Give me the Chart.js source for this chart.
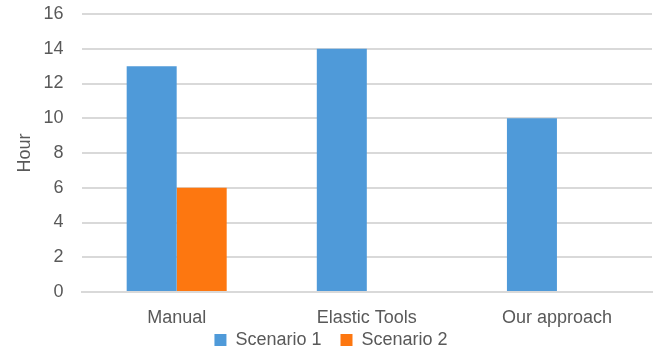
<!DOCTYPE html>
<html>
<head>
<meta charset="utf-8">
<script src="https://cdn.jsdelivr.net/npm/chart.js@4"></script>
<style>
  html, body { margin: 0; padding: 0; background: #ffffff; }
  #wrap { width: 656px; height: 352px; }
</style>
</head>
<body>
<div id="wrap"><canvas id="c" width="656" height="352"></canvas></div>
<script>
const categories = ["Manual", "Elastic Tools", "Our approach"];
const scenario1 = [13, 14, 10];
const scenario2 = [6, 0, 0];
const yTicks = [0, 2, 4, 6, 8, 10, 12, 14, 16];

const textColor = "#595959";
const gridColor = "#d9d9d9";
const fontFamily = "'Liberation Sans', 'DejaVu Sans', sans-serif";

// Pulls the legend box up so its row sits right under the category labels,
// while keeping wide horizontal spacing between the legend items.
const legendLift = {
  id: "legendLift",
  afterLayout(chart) {
    const lg = chart.legend;
    if (lg) { lg.top -= 15; lg.bottom -= 15; }
  }
};

new Chart(document.getElementById("c"), {
  type: "bar",
  data: {
    labels: categories,
    datasets: [
      { label: "Scenario 1", data: scenario1, backgroundColor: "#4f9ad9", borderWidth: 0 },
      { label: "Scenario 2", data: scenario2, backgroundColor: "#fd7710", borderWidth: 0 }
    ]
  },
  plugins: [legendLift],
  options: {
    responsive: false,
    animation: false,
    layout: { padding: { left: 10, right: 4, top: 14, bottom: -22 } },
    datasets: { bar: { categoryPercentage: 0.526, barPercentage: 1.0 } },
    plugins: {
      legend: {
        position: "bottom",
        labels: {
          color: textColor,
          font: { family: fontFamily, size: 18, lineHeight: 1 },
          boxWidth: 12,
          boxHeight: 12,
          padding: 19
        }
      },
      tooltip: { enabled: false }
    },
    scales: {
      x: {
        // invisible tick marks give the gap between the axis line and the labels
        grid: { display: true, drawOnChartArea: false, drawTicks: true, tickLength: 17, tickColor: "rgba(0,0,0,0)" },
        border: { display: true, color: gridColor, width: 2 },
        ticks: { color: textColor, font: { family: fontFamily, size: 18, lineHeight: 1 }, padding: 0 }
      },
      y: {
        min: 0,
        max: 16,
        afterBuildTicks: (axis) => { axis.ticks = yTicks.map(v => ({ value: v })); },
        grid: { color: gridColor, lineWidth: 2, drawTicks: true, tickLength: 18, tickColor: "rgba(0,0,0,0)" },
        border: { display: false },
        ticks: { color: textColor, font: { family: fontFamily, size: 18 }, padding: 0 },
        title: {
          display: true,
          text: "Hour",
          color: textColor,
          font: { family: fontFamily, size: 18 },
          padding: { top: 4, bottom: 8 }
        }
      }
    }
  }
});
</script>
</body>
</html>
